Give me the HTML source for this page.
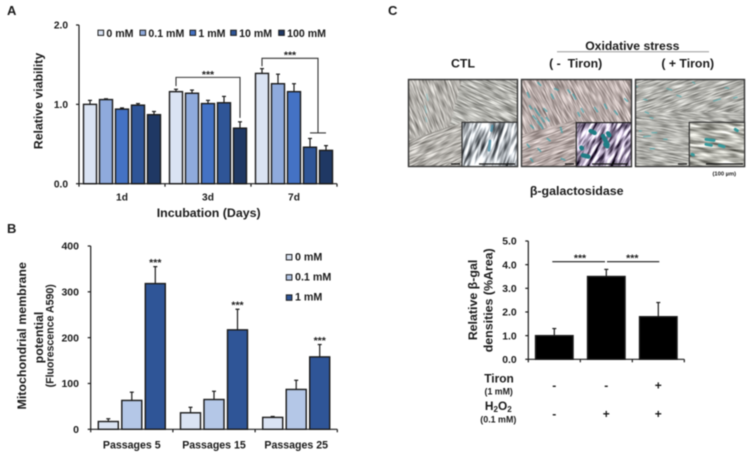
<!DOCTYPE html>
<html><head><meta charset="utf-8"><title>Tiron figure</title>
<style>
html,body{margin:0;padding:0;background:#fff;width:752px;height:457px;overflow:hidden}
svg{display:block;filter:blur(.45px)}
text{font-family:"Liberation Sans",Arial,sans-serif;font-weight:bold;fill:#1a1a1a}
</style></head><body>
<svg id="fig" xmlns="http://www.w3.org/2000/svg" width="752" height="457" viewBox="0 0 752 457">
<defs>
<filter id="s1" x="0" y="0" width="100%" height="100%" color-interpolation-filters="sRGB"><feTurbulence type="fractalNoise" baseFrequency="0.07 0.75" numOctaves="2" seed="3"/><feColorMatrix values="0.9 0 0 0 0.26  0.9 0 0 0 0.25  0.9 0 0 0 0.23  0 0 0 0 1"/></filter>
<filter id="s2" x="0" y="0" width="100%" height="100%" color-interpolation-filters="sRGB"><feTurbulence type="fractalNoise" baseFrequency="0.07 0.75" numOctaves="2" seed="8"/><feColorMatrix values="0.9 0 0 0 0.27  0.9 0 0 0 0.22  0.9 0 0 0 0.21  0 0 0 0 1"/></filter>
<filter id="s3" x="0" y="0" width="100%" height="100%" color-interpolation-filters="sRGB"><feTurbulence type="fractalNoise" baseFrequency="0.07 0.75" numOctaves="2" seed="14"/><feColorMatrix values="0.9 0 0 0 0.25  0.9 0 0 0 0.25  0.9 0 0 0 0.23  0 0 0 0 1"/></filter>
<filter id="i1" x="0" y="0" width="100%" height="100%" color-interpolation-filters="sRGB"><feTurbulence type="fractalNoise" baseFrequency="0.05 0.3" numOctaves="2" seed="5"/><feColorMatrix values="2 0 0 0 -0.3  2 0 0 0 -0.28  2 0 0 0 -0.26  0 0 0 0 1"/></filter>
<filter id="i2" x="0" y="0" width="100%" height="100%" color-interpolation-filters="sRGB"><feTurbulence type="fractalNoise" baseFrequency="0.07 0.3" numOctaves="2" seed="11"/><feColorMatrix values="2.2 0 0 0 -0.45  2.2 0 0 0 -0.5  2.2 0 0 0 -0.4  0 0 0 0 1"/></filter>
<filter id="i3" x="0" y="0" width="100%" height="100%" color-interpolation-filters="sRGB"><feTurbulence type="fractalNoise" baseFrequency="0.05 0.3" numOctaves="2" seed="21"/><feColorMatrix values="1.3 0 0 0 0.06  1.3 0 0 0 0.06  1.3 0 0 0 0.03  0 0 0 0 1"/></filter>
<clipPath id="c1"><rect x="408" y="79" width="110" height="88"/></clipPath>
<clipPath id="c2"><rect x="521" y="79" width="111" height="88"/></clipPath>
<clipPath id="c3"><rect x="635" y="79" width="110" height="88"/></clipPath>
<clipPath id="c1b"><polygon points="408,140 470,120 470,167 408,167"/></clipPath>
<clipPath id="c1c"><polygon points="462,79 518,79 518,125 450,125"/></clipPath>
<clipPath id="c2b"><polygon points="521,135 575,120 575,167 521,167"/></clipPath>
<clipPath id="c3b"><polygon points="635,79 745,79 745,112 635,112"/></clipPath>
<clipPath id="ci1"><rect x="462" y="122" width="56" height="45"/></clipPath>
<clipPath id="ci2"><rect x="576" y="122" width="56" height="45"/></clipPath>
<clipPath id="ci3"><rect x="689" y="122" width="56" height="45"/></clipPath>
</defs>
<rect width="752" height="457" fill="#fff"/>

<g>
  <g clip-path="url(#c1)"><rect x="340" y="20" width="250" height="210" filter="url(#s1)" transform="rotate(68 463 123)"/></g>
  <g clip-path="url(#c1c)"><rect x="340" y="0" width="250" height="210" filter="url(#s3)" transform="rotate(25 463 103)"/></g>
  <g clip-path="url(#c1b)"><rect x="340" y="20" width="250" height="210" filter="url(#s1)" transform="rotate(-25 463 123)"/></g>
  <g transform="translate(405 76) scale(.3333)" fill="none" stroke="#7fc0c4" stroke-width="4" stroke-linecap="round" opacity=".6"><path d="M65 55l4 18M60 90l4 20M62 125l3 12"/></g>
  <rect x="408.5" y="79.5" width="109" height="87" fill="none" stroke="#333" stroke-width="1.4"/>
</g>
<g>
  <g clip-path="url(#ci1)"><rect x="400" y="60" width="180" height="170" filter="url(#i1)" transform="rotate(-72 490 145)"/></g>
  <g transform="translate(405 76) scale(.3333)" fill="none" stroke="#4f8fa6" stroke-width="8" stroke-linecap="round" opacity=".85"><path d="M255 195l-3 28M262 150l-3 14"/></g>
  <rect x="462" y="122.3" width="55.5" height="44.2" fill="none" stroke="#333" stroke-width="1.2"/>
</g>
<g>
  <g clip-path="url(#c2)"><rect x="450" y="20" width="250" height="210" filter="url(#s2)" transform="rotate(62 576 123)"/></g>
  <g clip-path="url(#c2b)"><rect x="450" y="20" width="250" height="210" filter="url(#s2)" transform="rotate(-20 576 123)"/></g>
  <g transform="translate(518 76) scale(.3333)" fill="none" stroke="#4da5ad" stroke-width="5" stroke-linecap="round" opacity=".8"><path d="M60 20l8 8M28 50l6 14M55 105l10 14M70 125l8 12M38 148l8 8M100 55l6 12M165 55l8 14M190 98l6 10M128 155l4 14M230 95l8 12M260 85l6 12M290 105l8 10M88 188l8 6M28 205l6 8M60 218l8 8M130 248l10 4M38 248l6 8M320 68l8 8M110 38l10 4M150 42l6 8M58 135l10 14M78 98l8 8M50 98l8 12M45 120l10 10M68 145l6 12M85 125l8 10M35 90l5 8M180 110l5 10"/></g>
  <rect x="521.5" y="79.5" width="110" height="87" fill="none" stroke="#333" stroke-width="1.4"/>
</g>
<g>
  <g clip-path="url(#ci2)"><rect x="515" y="60" width="180" height="170" filter="url(#i2)" transform="rotate(-60 604 145)"/></g>
  <g transform="translate(518 76) scale(.3333)" fill="none" stroke="#1f7d85" stroke-width="13" stroke-linecap="round"><path d="M218 165l12 6M255 180l14 26M270 172l4 6M195 238l16 4M262 205l6 6M190 215l2 2"/></g>
  <rect x="576.3" y="122.6" width="55" height="44" fill="none" stroke="#222" stroke-width="1.2"/>
</g>
<g>
  <g clip-path="url(#c3)"><rect x="565" y="20" width="250" height="210" filter="url(#s3)" transform="rotate(8 690 123)"/></g>
  <g clip-path="url(#c3b)"><rect x="565" y="-20" width="250" height="210" filter="url(#s3)" transform="rotate(-18 690 85)"/></g>
  <g transform="translate(632 76) scale(.3333)" fill="none" stroke="#55adb0" stroke-width="4" stroke-linecap="round" opacity=".75"><path d="M35 70l10 2M40 108l10 4M105 38l14 4M182 18l6 4M280 35l10 2M245 75l20-6M305 66l10-2M55 125l8 2M35 182l20-2M60 170l14 0M55 218l12 0M95 190l10 0M22 165l6 0M12 30l4 2M135 58l12 4"/></g>
  <rect x="635.5" y="79.5" width="109" height="87" fill="none" stroke="#333" stroke-width="1.4"/>
</g>
<g>
  <g clip-path="url(#ci3)"><rect x="628" y="60" width="180" height="170" filter="url(#i3)" transform="rotate(8 717 145)"/></g>
  <g transform="translate(632 76) scale(.3333)" fill="none" stroke="#35999b" stroke-width="9" stroke-linecap="round"><path d="M222 190l24 3M222 205l16 3M262 208l14 4M180 235l4 2M310 160l6 4"/></g>
  <rect x="689.3" y="122.3" width="55.3" height="44.2" fill="none" stroke="#333" stroke-width="1.2"/>
</g>
<g stroke="#111" stroke-width="1.2">
  <line x1="451" x2="460" y1="164" y2="164"/><line x1="479" x2="515" y1="164" y2="164"/>
  <line x1="565" x2="574" y1="164" y2="164"/><line x1="592" x2="628" y1="164" y2="164"/>
  <line x1="678" x2="687" y1="164" y2="164"/><line x1="706" x2="743" y1="164" y2="164"/>
</g>
<text x="7" y="15" font-size="13">A</text>
<text x="7" y="233" font-size="13">B</text>
<text x="388" y="15" font-size="13">C</text>
<text x="632.3" y="50" font-size="12.2" text-anchor="middle">Oxidative stress</text>
<line x1="557" x2="709" y1="51.7" y2="51.7" stroke="#999" stroke-width="1"/>
<text x="463" y="67.5" font-size="12.3" text-anchor="middle">CTL</text>
<text x="575.7" y="67.5" font-size="12.3" text-anchor="middle" style="white-space:pre">( -  Tiron)</text>
<text x="687.7" y="67.5" font-size="12.3" text-anchor="middle">( + Tiron)</text>
<text x="724.3" y="175.5" font-size="5.8" text-anchor="middle">(100 µm)</text>
<text x="576.7" y="195" font-size="12.4" text-anchor="middle">β-galactosidase</text>

<g id="chartA"></g>
<g id="chartB"></g>
<g id="chartC"></g>

<g>
  <text x="499" y="382.7" font-size="11.9" text-anchor="middle">Tiron</text>
  <text x="498.7" y="394.3" font-size="8.8" text-anchor="middle">(1 mM)</text>
  <text x="498.3" y="410" font-size="11.9" text-anchor="middle">H<tspan font-size="8" dy="2">2</tspan><tspan dy="-2">O</tspan><tspan font-size="8" dy="2">2</tspan></text>
  <text x="498.3" y="422.3" font-size="8.9" text-anchor="middle">(0.1 mM)</text>
</g>
</svg>
<script>
// ---- Chart A data ----
const aCategories = ['1d', '3d', '7d'];
const aSeriesNames = ['0 mM', '0.1 mM', '1 mM', '10 mM', '100 mM'];
const a0mM = [1.00, 1.16, 1.39];
const a01mM = [1.06, 1.14, 1.26];
const a1mM = [0.94, 1.01, 1.16];
const a10mM = [0.99, 1.02, 0.46];
const a100mM = [0.87, 0.70, 0.42];
const a0mMErr = [0.05, 0.03, 0.06];
const a01mMErr = [0.01, 0.04, 0.12];
const a1mMErr = [0.015, 0.04, 0.10];
const a10mMErr = [0.02, 0.08, 0.11];
const a100mMErr = [0.04, 0.08, 0.06];
const aTicks = [0, 1, 2];
const aColors = ['#dae3f3', '#8faadc', '#4472c4', '#2f5597', '#1f3864'];
const aLegendX = [98, 140, 190, 230.7, 278.7];
// ---- Chart B data ----
const bCategories = ['Passages 5', 'Passages 15', 'Passages 25'];
const bSeriesNames = ['0 mM', '0.1 mM', '1 mM'];
const b0mM = [17, 36, 26];
const b01mM = [63, 65, 87];
const b1mM = [318, 217, 158];
const b0mMErr = [6, 12, 2];
const b01mMErr = [18, 18, 20];
const b1mMErr = [37, 45, 27];
const bTicks = [0, 100, 200, 300, 400];
const bColors = ['#dae3f3', '#b4c7e7', '#2f5597'];
// ---- Chart C data ----
const cCategories = ['ctl', 'h2o2', 'h2o2-tiron'];
const cValues = [1.0, 3.5, 1.8];
const cErrors = [0.3, 0.3, 0.6];
const cTicks = [0, 1, 2, 3, 4, 5];
const cTironSigns = ['-', '-', '+'];
const cH2o2Signs = ['-', '+', '+'];

const NS = 'http://www.w3.org/2000/svg';
const INK = '#1a1a1a';
function make(parent, tag, attrs, name, txt) {
  const el = document.createElementNS(NS, tag);
  for (const k in attrs) el.setAttribute(k, attrs[k]);
  
  
  if (txt !== undefined) el.textContent = txt;
  parent.appendChild(el);
  return el;
}
function line(p, x1, y1, x2, y2, name, w, col) {
  return make(p, 'line', {x1, y1, x2, y2, stroke: col || INK, 'stroke-width': w || 1.2}, name);
}
function label(p, x, y, size, anchor, name, txt, extra) {
  return make(p, 'text', Object.assign({x, y, 'font-size': size, 'text-anchor': anchor}, extra || {}), name, txt);
}
function vLabel(p, x, y, size, name, txt) {
  return make(p, 'text', {x, y, 'font-size': size, 'text-anchor': 'middle', transform: 'rotate(-90 ' + x + ' ' + y + ')'}, name, txt);
}
function frame(p, x0, x1, y0, yTop, yFn, ticks, fmt, n, tickSize, labelRight) {
  line(p, x0, yTop, x0, y0, 'y-axis');
  line(p, x0, y0, x1, y0, 'x-axis');
  ticks.forEach(t => {
    line(p, x0 - 3, yFn(t), x0, yFn(t), 'y-tick');
    label(p, labelRight, yFn(t) + 3.7, tickSize, 'end', 'y-tick-label', fmt(t));
  });
  for (let i = 0; i <= n; i++) {
    const x = x0 + (x1 - x0) * i / n;
    line(p, x, y0, x, y0 + 3, 'x-tick');
  }
}
function bar(p, x, w, y, y0, col, name, errY) {
  const c = x + w / 2;
  line(p, c, y, c, errY, name + '-error', 1.2);
  line(p, c - 2, errY, c + 2, errY, name + '-error-cap', 1.2);
  make(p, 'rect', {x, y, width: w, height: y0 - y, fill: col, stroke: INK, 'stroke-width': 1.4}, name);
}

// ---- Chart A ----
(function () {
  const g = document.getElementById('chartA');
  const X0 = 79, X1 = 337, Y0 = 183.7, YT = 25;
  const y = v => Y0 - v * (Y0 - YT) / 2;
  const bw = 13, step = 16, gw = (X1 - X0) / aCategories.length;
  const left = (c, s) => X0 + gw * c + (gw - (aSeriesNames.length * step - (step - bw))) / 2 + s * step;
  const series = [a0mM, a01mM, a1mM, a10mM, a100mM];
  const errs = [a0mMErr, a01mMErr, a1mMErr, a10mMErr, a100mMErr];
  frame(g, X0, X1, Y0, YT, y, aTicks, t => t.toFixed(1), aCategories.length, 10.2, 68);
  series.forEach((vals, s) => vals.forEach((v, c) => {
    bar(g, left(c, s), bw, y(v), Y0, aColors[s], 'bar-' + aCategories[c] + '-series-' + s, y(v + errs[s][c]));
  }));
  aCategories.forEach((n, c) => label(g, X0 + gw * (c + .5), 200.5, 10.2, 'middle', 'category-label', n));
  label(g, 208.7, 217, 12.4, 'middle', 'x-axis-title', 'Incubation (Days)');
  vLabel(g, 42.5, 101, 12.3, 'y-axis-title', 'Relative viability');
  aSeriesNames.forEach((n, s) => {
    make(g, 'rect', {x: aLegendX[s], y: 30.2, width: 5.6, height: 5.2, fill: aColors[s], stroke: INK, 'stroke-width': 1}, 'legend-swatch');
    label(g, aLegendX[s] + 8.4, 36.8, 10.6, 'start', 'legend-entry', n);
  });
  // significance brackets
  const c3a = left(1, 0) + bw / 2, c3b = left(1, 4) + bw / 2;
  make(g, 'path', {d: 'M' + c3a + ' ' + y(1.23) + 'V' + y(1.34) + 'H' + c3b + 'V' + y(0.83), fill: 'none', stroke: '#333', 'stroke-width': 1.1}, 'significance-bracket-3d');
  label(g, (c3a + c3b) / 2, 78, 10.5, 'middle', 'significance-stars-3d', '***');
  const c7a = left(2, 0) + bw / 2, c7b = (left(2, 3) + left(2, 4)) / 2 + bw / 2;
  make(g, 'path', {d: 'M' + c7a + ' ' + y(1.48) + 'V' + y(1.58) + 'H' + c7b + 'V' + y(0.64), fill: 'none', stroke: '#333', 'stroke-width': 1.1}, 'significance-bracket-7d');
  line(g, left(2, 3) + bw / 2, y(0.64), left(2, 4) + bw / 2, y(0.64), 'significance-bar-7d', 1.1, '#333');
  label(g, (c7a + c7b) / 2, 58.7, 10.5, 'middle', 'significance-stars-7d', '***');
})();

// ---- Chart B ----
(function () {
  const g = document.getElementById('chartB');
  const X0 = 90.7, X1 = 337.3, Y0 = 429.3, YT = 246;
  const y = v => Y0 - v * (Y0 - YT) / 400;
  const bw = 20, step = 23.5, gw = (X1 - X0) / bCategories.length;
  const left = (c, s) => X0 + gw * c + (gw - (bSeriesNames.length * step - (step - bw))) / 2 + s * step;
  const series = [b0mM, b01mM, b1mM];
  const errs = [b0mMErr, b01mMErr, b1mMErr];
  frame(g, X0, X1, Y0, YT, y, bTicks, t => String(t), bCategories.length, 10.5, 79);
  series.forEach((vals, s) => vals.forEach((v, c) => {
    bar(g, left(c, s), bw, y(v), Y0, bColors[s], 'bar-p' + c + '-series-' + s, y(v + errs[s][c]));
  }));
  bCategories.forEach((n, c) => {
    label(g, X0 + gw * (c + .5), 448.7, 10.6, 'middle', 'category-label', n);
    label(g, left(c, 2) + bw / 2, y(b1mM[c] + b1mMErr[c]) - 0.5, 10.5, 'middle', 'significance-stars', '***');
  });
  bSeriesNames.forEach((n, s) => {
    const top = 254.5 + s * 20.2;
    make(g, 'rect', {x: 286.3, y: top, width: 5.6, height: 5.4, fill: bColors[s], stroke: INK, 'stroke-width': 1}, 'legend-swatch');
    label(g, 295, top + 5.8, 10.7, 'start', 'legend-entry', n);
  });
  vLabel(g, 26, 335.8, 12.4, 'y-axis-title-line-1', 'Mitochondrial membrane');
  vLabel(g, 43, 337.5, 12.4, 'y-axis-title-line-2', 'potential');
  vLabel(g, 53.5, 335.8, 10.6, 'y-axis-subtitle', '(Fluorescence A590)');
})();

// ---- Chart C ----
(function () {
  const g = document.getElementById('chartC');
  const X0 = 528.3, X1 = 684.3, Y0 = 359.3, YT = 241;
  const y = v => Y0 - v * (Y0 - YT) / 5;
  const gw = (X1 - X0) / cCategories.length, bw = 37.5;
  const center = c => X0 + gw * (c + .5);
  frame(g, X0, X1, Y0, YT, y, cTicks, t => t.toFixed(1), cCategories.length, 10.4, 516.7);
  cValues.forEach((v, c) => {
    bar(g, center(c) - bw / 2, bw, y(v), Y0, '#000', 'bar-' + cCategories[c], y(v + cErrors[c]));
  });
  cTironSigns.forEach((n, c) => label(g, center(c), 389.3, 12, 'middle', 'tiron-sign', n));
  cH2o2Signs.forEach((n, c) => label(g, center(c), 418, 12, 'middle', 'h2o2-sign', n));
  vLabel(g, 477, 300, 12.4, 'y-axis-title-line-1', 'Relative β-gal');
  vLabel(g, 492.7, 300.3, 12.4, 'y-axis-title-line-2', 'densities (%Area)');
  line(g, 552.3, 261.7, 605, 261.7, 'significance-line-left', 1.1);
  line(g, 607, 261.7, 659.3, 261.7, 'significance-line-right', 1.1);
  label(g, 580, 261.5, 10.5, 'middle', 'significance-stars-left', '***');
  label(g, 632.3, 261.5, 10.5, 'middle', 'significance-stars-right', '***');
})();
</script>
</body></html>
